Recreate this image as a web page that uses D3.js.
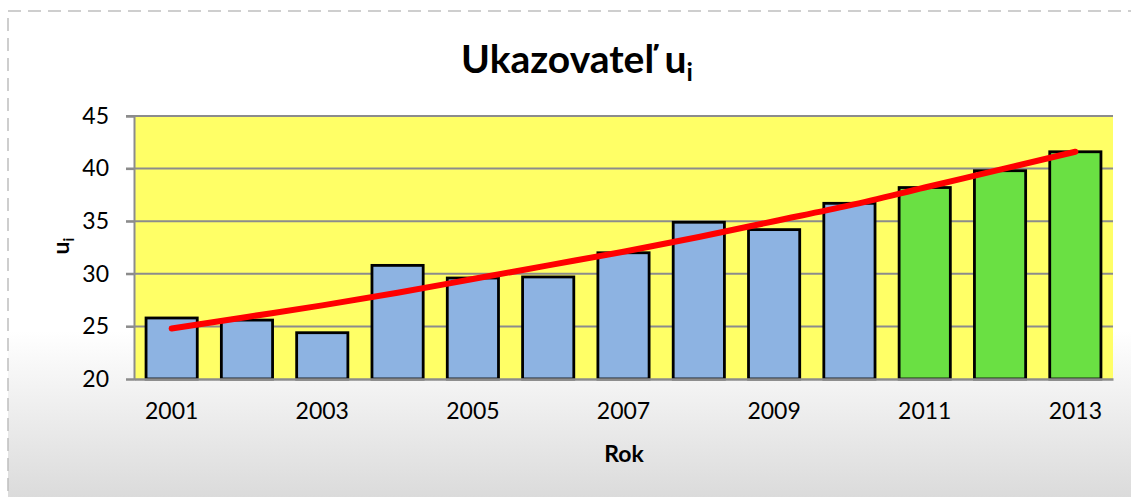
<!DOCTYPE html>
<html>
<head>
<meta charset="utf-8">
<script src="https://cdn.jsdelivr.net/npm/d3@7"></script>
<style>
  html, body { margin: 0; padding: 0; background: #fff; }
  svg { display: block; font-family: Lato, "Open Sans", sans-serif; }
</style>
</head>
<body>
<svg id="chart" width="1131" height="497"></svg>
<script>
"use strict";

// roky a hodnoty ukazovatela
var years = [2001, 2002, 2003, 2004, 2005, 2006, 2007, 2008, 2009, 2010, 2011, 2012, 2013];
var values = [25.8, 25.6, 24.4, 30.8, 29.6, 29.7, 32.0, 34.9, 34.2, 36.7, 38.2, 39.8, 41.6];
// posledne tri roky su prognoza (zelene)
var forecast = [false, false, false, false, false, false, false, false, false, false, true, true, true];
// trend (cervena krivka)
var trend = [24.8, 25.9, 27.0, 28.2, 29.5, 30.8, 32.1, 33.5, 35.0, 36.5, 38.2, 39.9, 41.6];
var yTicks = [20, 25, 30, 35, 40, 45];
var xLabels = [2001, 2003, 2005, 2007, 2009, 2011, 2013];

var svg = d3.select("#chart");
var pLeft = 134, pRight = 1113, pTop = 116, pBottom = 379;

// pozadie s prechodom
var defs = svg.append("defs");
var grad = defs.append("linearGradient")
  .attr("id", "bg")
  .attr("x1", 0).attr("y1", 0).attr("x2", 0).attr("y2", 1);
grad.append("stop").attr("offset", "0%").attr("stop-color", "#ffffff");
grad.append("stop").attr("offset", "64%").attr("stop-color", "#ffffff");
grad.append("stop").attr("offset", "100%").attr("stop-color", "#d8d8d8");

svg.append("rect")
  .attr("x", 8).attr("y", 11)
  .attr("width", 1140).attr("height", 500)
  .attr("fill", "url(#bg)")
  .attr("stroke", "#bfbfbf")
  .attr("stroke-width", 1.5)
  .attr("stroke-dasharray", "13,7");

var x = d3.scaleBand()
  .domain(years)
  .range([pLeft, pRight])
  .paddingInner(0.32)
  .paddingOuter(0.16);

var y = d3.scaleLinear()
  .domain([20, 45])
  .range([pBottom, pTop]);

// plocha grafu
svg.append("rect")
  .attr("x", pLeft).attr("y", pTop)
  .attr("width", pRight - pLeft).attr("height", pBottom - pTop)
  .attr("fill", "#ffff66");

// mriezka
svg.append("g")
  .selectAll("line")
  .data(yTicks.slice(1))
  .enter()
  .append("line")
  .attr("x1", pLeft - 8).attr("x2", pRight)
  .attr("y1", function (d) { return y(d); })
  .attr("y2", function (d) { return y(d); })
  .attr("stroke", "#8c8c8c")
  .attr("stroke-width", 2);

// stlpce
svg.append("g")
  .selectAll("rect")
  .data(years)
  .enter()
  .append("rect")
  .attr("x", function (d) { return x(d); })
  .attr("y", function (d, i) { return y(values[i]); })
  .attr("width", x.bandwidth())
  .attr("height", function (d, i) { return y(20) - y(values[i]); })
  .attr("fill", function (d, i) { return forecast[i] ? "#6ae043" : "#8db3e2"; })
  .attr("stroke", "#000")
  .attr("stroke-width", 2.8);

// osi
var yAxis = svg.append("g")
  .attr("transform", "translate(" + pLeft + ",0)")
  .call(d3.axisLeft(y).tickValues(yTicks).tickSize(8).tickPadding(17));
yAxis.select(".domain").attr("stroke", "#8c8c8c").attr("stroke-width", 2);
yAxis.selectAll(".tick line").attr("stroke", "#8c8c8c").attr("stroke-width", 2);
yAxis.selectAll(".tick text")
  .attr("font-size", 23)
  .attr("font-family", "Lato, sans-serif")
  .attr("fill", "#000");

var xAxis = svg.append("g")
  .attr("transform", "translate(0," + pBottom + ")")
  .call(d3.axisBottom(x).tickValues(xLabels).tickSize(0).tickPadding(24).tickSizeOuter(0));
xAxis.select(".domain").attr("stroke", "#8c8c8c").attr("stroke-width", 2.5);
xAxis.selectAll(".tick text")
  .attr("font-size", 23)
  .attr("font-family", "Lato, sans-serif")
  .attr("fill", "#000");

// trend
var line = d3.line()
  .x(function (d, i) { return x(years[i]) + x.bandwidth() / 2; })
  .y(function (d) { return y(d); })
  .curve(d3.curveMonotoneX);

svg.append("path")
  .datum(trend)
  .attr("d", line)
  .attr("fill", "none")
  .attr("stroke", "#ff0000")
  .attr("stroke-width", 6)
  .attr("stroke-linecap", "round");

// nadpis
var title = svg.append("text")
  .attr("x", 577).attr("y", 73)
  .attr("text-anchor", "middle")
  .attr("font-size", 39)
  .attr("font-weight", "bold");
title.append("tspan").text("Ukazovateľ u");
title.append("tspan").attr("font-size", 25).attr("dy", 8).text("i");

// popisy osi
svg.append("text")
  .attr("x", 624).attr("y", 462)
  .attr("text-anchor", "middle")
  .attr("font-size", 23)
  .attr("font-weight", "bold")
  .text("Rok");

var yl = svg.append("text")
  .attr("transform", "translate(69,246) rotate(-90)")
  .attr("text-anchor", "middle")
  .attr("font-size", 23)
  .attr("font-weight", "bold");
yl.append("tspan").text("u");
yl.append("tspan").attr("font-size", 15).attr("dy", 5).text("i");
</script>
</body>
</html>
